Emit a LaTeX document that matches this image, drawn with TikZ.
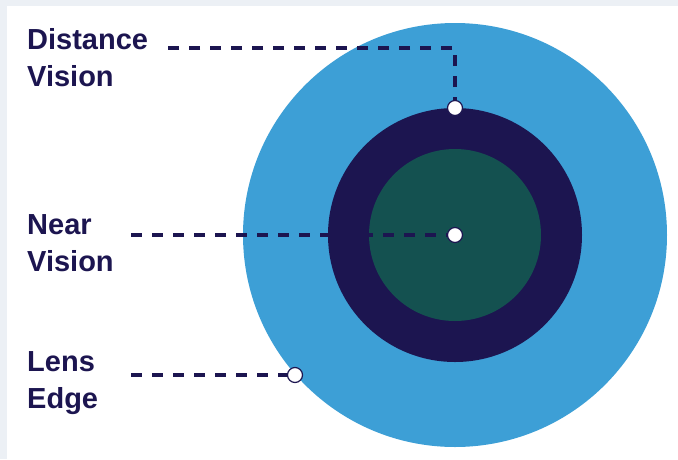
\documentclass[tikz,border=0pt]{standalone}
\usepackage{fontspec}
\setmainfont{Liberation Sans}
\definecolor{bordergray}{HTML}{ECF0F5}
\definecolor{lensblue}{HTML}{3D9FD6}
\definecolor{navy}{HTML}{1C1550}
\definecolor{neargreen}{HTML}{145150}
\tikzset{
  disc/.style={circle, inner sep=0pt, draw=none},
  marker/.style={circle, inner sep=0pt, minimum size=15pt, fill=white, draw=navy, line width=1.2pt},
  leader/.style={draw=navy, line width=3.6pt, dash pattern=on 11pt off 10pt},
  lbl/.style={font=\fontsize{29}{37}\selectfont\bfseries, text=navy, align=left, inner sep=0pt, anchor=base west}
}
\begin{document}
\begin{tikzpicture}[x=1pt,y=-1pt]
\useasboundingbox (0,0) rectangle (678,459);
\fill[bordergray] (0,0) rectangle (678,459);
\fill[white] (7,6) rectangle (678,459);
% lens zones
\node[disc, fill=lensblue, minimum size=424pt] (edge) at (455,235) {};
\node[disc, fill=navy, minimum size=254pt] (dist) at (455,235) {};
\node[disc, fill=neargreen, minimum size=172pt] (near) at (455,235) {};
% labels (base anchor = baseline of last line)
\node[lbl] (tdist) at (27,86) {Distance\\Vision};
\node[lbl] (tnear) at (27,271) {Near\\Vision};
\node[lbl] (tlens) at (27,408) {Lens\\Edge};
% leader points
\coordinate (pd) at (455,108);
\coordinate (pn) at (455,235);
\coordinate (pl) at (295,375);
\coordinate (dcorner) at (455,48);
\coordinate (dstart) at (168,48);
\coordinate (nstart) at (131,235);
\coordinate (lstart) at (131,375);
% leaders
\draw[leader] (pd) -- (dcorner) -- (dstart);
\draw[leader] (nstart) -- (pn);
\draw[leader] (lstart) -- (pl);
% markers
\node[marker] (md) at (pd) {};
\node[marker] (mn) at (pn) {};
\node[marker] (ml) at (pl) {};
\end{tikzpicture}
\end{document}
